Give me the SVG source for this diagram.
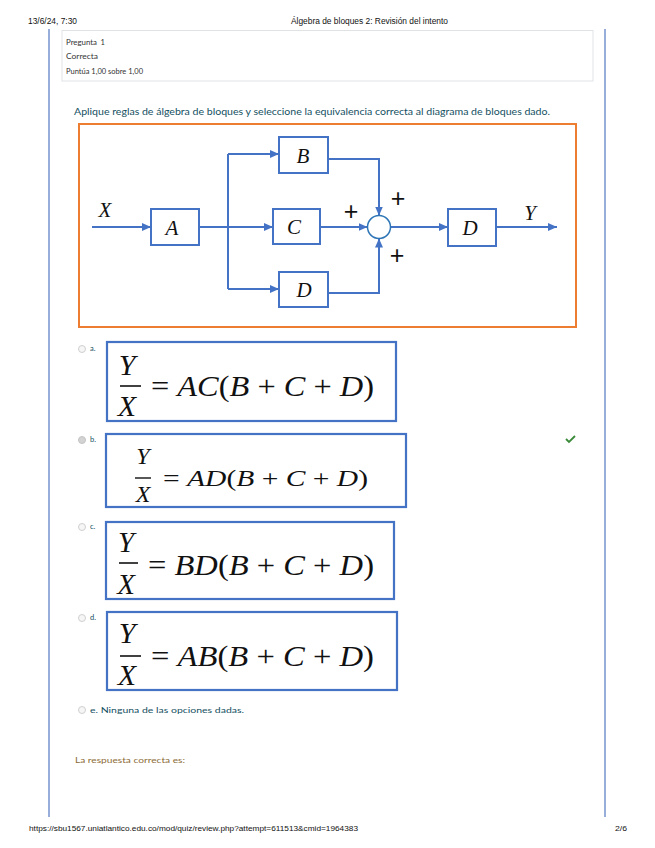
<svg xmlns="http://www.w3.org/2000/svg" width="655" height="848" viewBox="0 0 655 848">
<style>
.ui{font-family:"Liberation Sans",Arial,sans-serif;fill:#111}
.hd{font-family:"Lato","Open Sans",sans-serif;fill:#333;font-size:7.5px}
.q{font-family:"Lato","Open Sans",sans-serif;fill:#14505f;font-weight:400}
.blk{fill:#fff;stroke:#4472C4;stroke-width:2}
.lbl{font-family:"Liberation Serif","Times New Roman",serif;font-style:italic;font-size:21px;fill:#111;text-anchor:middle}
.pls{font-family:"Liberation Sans",Arial,sans-serif;font-size:25px;fill:#111;text-anchor:middle}
.wire{fill:none;stroke:#4472C4;stroke-width:2}
.obox{fill:#fff;stroke:#4472C4;stroke-width:2.2}
.math{font-family:"Liberation Serif","Times New Roman",serif;fill:#111}
.it{font-style:italic}
.radio{fill:#f6f6f6;stroke:#cfcfcf;stroke-width:1}
.opt{font-family:"Lato","Open Sans",sans-serif;fill:#14505f;font-size:7.5px;font-weight:400}
</style>
<defs>
<marker id="ah" markerUnits="userSpaceOnUse" markerWidth="9" markerHeight="8" viewBox="0 0 9 8" refX="9" refY="4" orient="auto">
<path d="M0,0 L9,4 L0,8 z" fill="#4472C4"/>
</marker>
</defs>
<rect x="0" y="0" width="655" height="848" fill="#fff"/>

<!-- page header -->
<text class="ui" x="28" y="24" font-size="8.5" textLength="49" lengthAdjust="spacingAndGlyphs">13/6/24, 7:30</text>
<text class="ui" x="291" y="24" font-size="8.5" textLength="157" lengthAdjust="spacingAndGlyphs">Álgebra de bloques 2: Revisión del intento</text>

<!-- page side rules -->
<line x1="49" y1="29" x2="49" y2="817" stroke="#7393cc" stroke-width="1.5"/>
<line x1="605" y1="29" x2="605" y2="817" stroke="#7393cc" stroke-width="1.5"/>

<!-- info box -->
<g id="info">
<rect x="62" y="30.5" width="531" height="50.5" fill="#fff" stroke="#dfe3e6" stroke-width="1"/>
<text class="hd" x="66" y="44.5" textLength="31" lengthAdjust="spacingAndGlyphs">Pregunta</text>
<text class="hd" x="100.5" y="44.5" font-size="13">1</text>
<text class="hd" x="66" y="59" textLength="32" lengthAdjust="spacingAndGlyphs">Correcta</text>
<text class="hd" x="66" y="74" textLength="77" lengthAdjust="spacingAndGlyphs">Puntúa 1,00 sobre 1,00</text>
</g>

<text class="q" x="74" y="114.5" font-size="9.5" textLength="476" lengthAdjust="spacingAndGlyphs">Aplique reglas de álgebra de bloques y seleccione la equivalencia correcta al diagrama de bloques dado.</text>

<!-- block diagram -->
<rect x="79" y="124" width="497" height="203" fill="#fff" stroke="#ED7D31" stroke-width="2"/>

<g id="connectors">
<path class="wire" d="M92,227 L151,227" marker-end="url(#ah)"/>
<path class="wire" d="M199,227 L273,227" marker-end="url(#ah)"/>
<path class="wire" d="M228,154 L228,289"/>
<path class="wire" d="M228,154 L279,154" marker-end="url(#ah)"/>
<path class="wire" d="M228,289 L279,289" marker-end="url(#ah)"/>
<path class="wire" d="M328,159 L379,159 L379,215.5" stroke-width="1.5" marker-end="url(#ah)"/>
<path class="wire" d="M320,227 L367.5,227" marker-end="url(#ah)"/>
<path class="wire" d="M328,293 L379,293 L379,238.5" marker-end="url(#ah)"/>
<path class="wire" d="M390.5,227 L448,227" marker-end="url(#ah)"/>
<path class="wire" d="M496,227 L557,227" marker-end="url(#ah)"/>
</g>

<g id="node-A"><rect class="blk" x="151" y="209" width="48" height="36"/><text class="lbl" x="172" y="235">A</text></g>
<g id="node-B"><rect class="blk" x="279" y="137" width="49" height="36"/><text class="lbl" x="303" y="163">B</text></g>
<g id="node-C"><rect class="blk" x="273" y="209" width="47" height="35"/><text class="lbl" x="294" y="234">C</text></g>
<g id="node-D"><rect class="blk" x="279" y="272" width="49" height="35"/><text class="lbl" x="304" y="297">D</text></g>
<g id="node-sum"><circle cx="379" cy="227" r="11.5" fill="#fff" stroke="#2E75B6" stroke-width="1.5"/></g>
<g id="node-D2"><rect class="blk" x="448" y="209" width="48" height="37"/><text class="lbl" x="470" y="235">D</text></g>

<text class="lbl" x="105" y="217">X</text>
<text class="lbl" x="530" y="220">Y</text>
<text class="pls" x="398" y="207">+</text>
<text class="pls" x="351" y="220">+</text>
<text class="pls" x="397" y="264">+</text>

<!-- option a -->
<g id="opt-a">
<circle class="radio" cx="82" cy="349" r="3.5"/>
<text class="opt" x="90" y="351">a.</text>
<rect class="obox" x="107" y="342" width="289" height="79"/>
<g class="math" font-size="30">
<text class="it" x="127" y="375" text-anchor="middle">Y</text>
<line x1="120" y1="386" x2="141" y2="386" stroke="#111" stroke-width="1.6"/>
<text class="it" x="127" y="416" text-anchor="middle">X</text>
<text x="151" y="396" textLength="223" lengthAdjust="spacingAndGlyphs">= <tspan class="it">AC</tspan>(<tspan class="it">B</tspan> + <tspan class="it">C</tspan> + <tspan class="it">D</tspan>)</text>
</g>
</g>

<!-- option b -->
<g id="opt-b">
<circle cx="82" cy="440" r="3.5" fill="#d3d3d3" stroke="#c4c4c4" stroke-width="1"/>
<text class="opt" x="90" y="442">b.</text>
<rect class="obox" x="106" y="434" width="300" height="73"/>
<g class="math" font-size="24">
<text class="it" x="143" y="464" text-anchor="middle">Y</text>
<line x1="135" y1="478" x2="151" y2="478" stroke="#111" stroke-width="1.4"/>
<text class="it" x="143" y="502" text-anchor="middle">X</text>
<text x="163" y="486" textLength="205" lengthAdjust="spacingAndGlyphs">= <tspan class="it">AD</tspan>(<tspan class="it">B</tspan> + <tspan class="it">C</tspan> + <tspan class="it">D</tspan>)</text>
</g>
<path d="M566,439 L569,442 L575,436" fill="none" stroke="#3a8a3a" stroke-width="1.8"/>
</g>

<!-- option c -->
<g id="opt-c">
<circle class="radio" cx="82" cy="527" r="3.5"/>
<text class="opt" x="90" y="529">c.</text>
<rect class="obox" x="106" y="522" width="288" height="77"/>
<g class="math" font-size="29">
<text class="it" x="126" y="552" text-anchor="middle">Y</text>
<line x1="119" y1="563" x2="138" y2="563" stroke="#111" stroke-width="1.6"/>
<text class="it" x="126" y="594" text-anchor="middle">X</text>
<text x="148" y="575" textLength="226" lengthAdjust="spacingAndGlyphs">= <tspan class="it">BD</tspan>(<tspan class="it">B</tspan> + <tspan class="it">C</tspan> + <tspan class="it">D</tspan>)</text>
</g>
</g>

<!-- option d -->
<g id="opt-d">
<circle class="radio" cx="82" cy="618" r="3.5"/>
<text class="opt" x="90" y="620">d.</text>
<rect class="obox" x="107" y="612" width="290" height="78"/>
<g class="math" font-size="30">
<text class="it" x="127" y="643" text-anchor="middle">Y</text>
<line x1="120" y1="656" x2="141" y2="656" stroke="#111" stroke-width="1.6"/>
<text class="it" x="127" y="685" text-anchor="middle">X</text>
<text x="151" y="666" textLength="223" lengthAdjust="spacingAndGlyphs">= <tspan class="it">AB</tspan>(<tspan class="it">B</tspan> + <tspan class="it">C</tspan> + <tspan class="it">D</tspan>)</text>
</g>
</g>

<!-- option e -->
<g id="opt-e">
<circle class="radio" cx="82" cy="710" r="3.5"/>
<text class="opt" x="90" y="712.5" textLength="154" lengthAdjust="spacingAndGlyphs">e. Ninguna de las opciones dadas.</text>
</g>

<text x="75" y="763" font-family="Lato, 'Open Sans', sans-serif" font-size="8" fill="#8a6a35" textLength="110" lengthAdjust="spacingAndGlyphs">La respuesta correcta es:</text>

<!-- footer -->
<text class="ui" x="29" y="831" font-size="8" textLength="329" lengthAdjust="spacingAndGlyphs">https://sbu1567.uniatlantico.edu.co/mod/quiz/review.php?attempt=611513&amp;cmid=1964383</text>
<text class="ui" x="615" y="831" font-size="8" textLength="12" lengthAdjust="spacingAndGlyphs">2/6</text>
</svg>
